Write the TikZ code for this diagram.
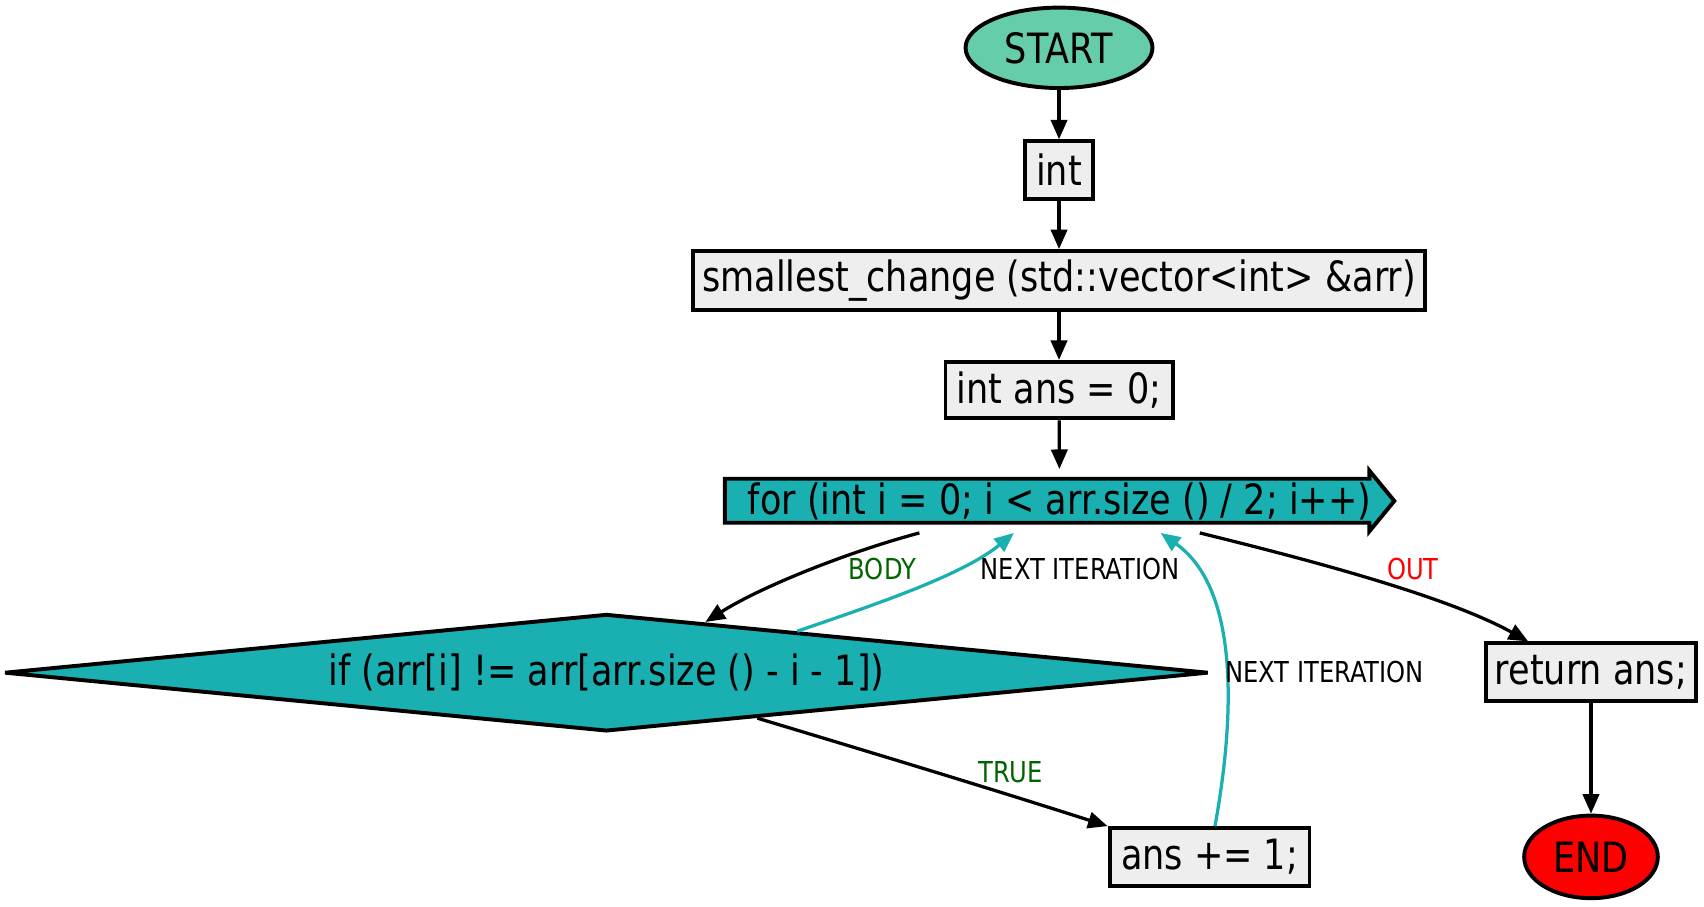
\documentclass[tikz,border=0pt]{standalone}
\usepackage{fontspec}
\setmainfont{DejaVu Sans}[FakeStretch=0.84]
\usetikzlibrary{shapes.geometric,arrows.meta,calc}
\definecolor{seag}{HTML}{1AAFB0}
\definecolor{aqua}{HTML}{66CDAA}
\definecolor{boxg}{HTML}{EEEEEE}
\definecolor{dgreen}{HTML}{006400}
\tikzset{
  base/.style={draw, line width=1.8pt, inner sep=0pt, font=\fontsize{19.2pt}{22pt}\selectfont},
  procbox/.style={base, rectangle, fill=boxg},
  term/.style={base, ellipse},
  lbl/.style={font=\fontsize{13.25pt}{15pt}\selectfont, inner sep=0pt},
  flow/.style={line width=1.5pt, -{Triangle[length=9pt,width=7.5pt]}},
  loopflow/.style={flow, seag},
}
\begin{document}
\begin{tikzpicture}[x=0.5pt,y=-0.5pt]
\useasboundingbox (0,0) rectangle (1568,834);
\node[term, fill=aqua, minimum width=86pt, minimum height=37pt] (start) at (974.5,44) {START};
\node[procbox, minimum width=31.5pt, minimum height=26.5pt] (int) at (974.5,156.5) {int};
\node[procbox, minimum width=336.5pt, minimum height=27pt] (fn) at (974.5,258) {smallest\_change (std::vector<int> \&arr)};
\node[procbox, minimum width=104.5pt, minimum height=26pt] (ians) at (974.5,359) {int ans = 0;};
% for loop arrow shape
\draw[line width=1.8pt, fill=seag, line join=miter]
  (667,440.5) -- (1260,440.5) -- (1260,433) -- (1283,461) -- (1260,489) -- (1260,481) -- (667,481) -- cycle;
\node[font=\fontsize{19.2pt}{22pt}\selectfont, inner sep=0pt, minimum width=309pt, minimum height=29pt] (for) at (975,461) {for (int i = 0; i < arr.size () / 2; i++)};
\node[base, diamond, fill=seag, aspect=10, minimum width=554pt, minimum height=54pt] (if) at (558,619) {if (arr[i] != arr[arr.size () - i - 1])};
\node[procbox, minimum width=97pt, minimum height=26.5pt] (ret) at (1464,618.5) {return ans;};
\node[procbox, minimum width=92pt, minimum height=26.5pt] (inc) at (1113,788.5) {ans += 1;};
\node[term, fill=red, minimum width=61.5pt, minimum height=38pt] (end) at (1464,788.5) {END};
% edges
\draw[flow] (start) -- (int);
\draw[flow] (int) -- (fn);
\draw[flow] (fn) -- (ians);
\draw[flow] (ians) -- (for);
\draw[flow] ($(for.south)+(-129,0)$) .. controls (780,508) and (700,540) .. ($(if.north)!0.164!(if.east)$);
\draw[loopflow] ($(if.north)!0.316!(if.east)$) .. controls (800,558) and (885,530) .. ($(for.south)+(-42,0)$);
\draw[flow] ($(if.south)!0.25!(if.east)$) .. controls (800,692) and (900,722) .. (inc.north west);
\draw[loopflow] ($(inc.north)+(5,0)$) .. controls (1138,650) and (1138,540) .. ($(for.south)+(93,0)$);
\draw[flow] ($(for.south)+(129,0)$) .. controls (1200,514) and (1330,548) .. ($(ret.north west)+(41,0)$);
\draw[flow] (ret) -- (end);
% labels
\node[lbl, text=dgreen] (lbody) at (812,524) {BODY};
\node[lbl] (lnext1) at (994,524) {NEXT ITERATION};
\node[lbl, text=dgreen] (ltrue) at (930,711) {TRUE};
\node[lbl, anchor=west] (lnext2) at (1127,618) {NEXT ITERATION};
\node[lbl, text=red] (lout) at (1300,524) {OUT};
\end{tikzpicture}
\end{document}
